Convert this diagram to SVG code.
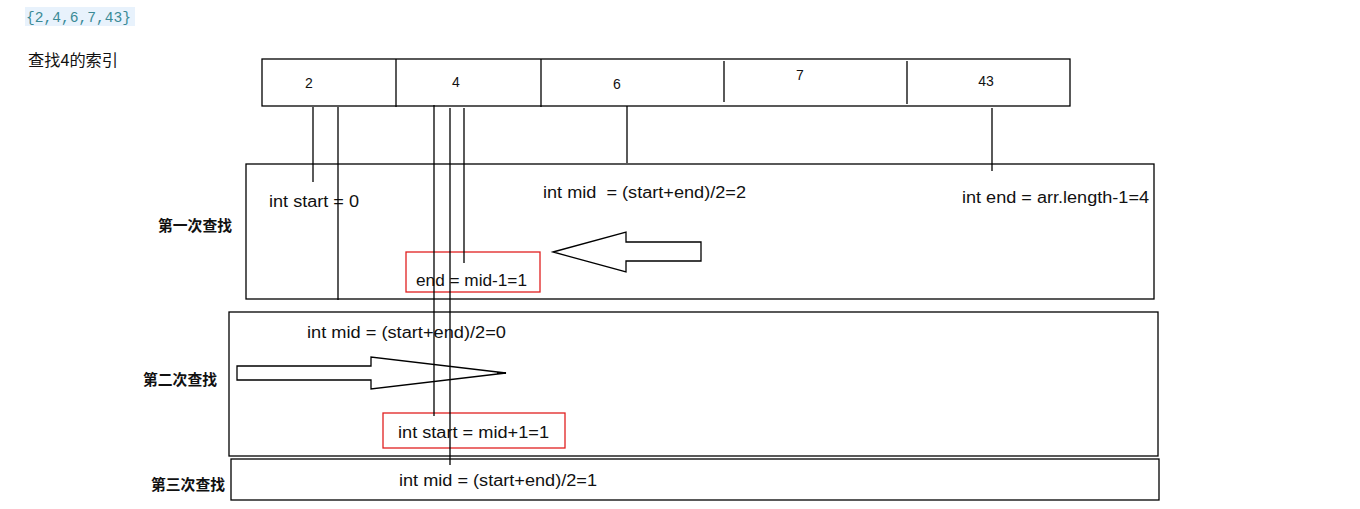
<svg xmlns="http://www.w3.org/2000/svg" width="1360" height="509" viewBox="0 0 1360 509">
<style>
.ln{stroke:#000;stroke-width:1.3;fill:none}
.bx{stroke:#000;stroke-width:1.3;fill:none}
.rb{stroke:#e02020;stroke-width:1.3;fill:none}
.t{font-family:"Liberation Sans","Open Sans",sans-serif;font-size:16px;fill:#111}
.n{font-family:"Liberation Sans","Open Sans",sans-serif;font-size:14px;fill:#111}
.lb{font-family:"Noto Sans CJK SC",sans-serif;font-size:14.8px;font-weight:bold;fill:#111}
</style>
<rect width="1360" height="509" fill="#fff"/>
<g id="header">
<rect x="25" y="7" width="110" height="19" fill="#e8f2fc"/>
<text x="26" y="22" font-family="Liberation Mono,monospace" font-size="14" fill="#3a8a96" textLength="105" lengthAdjust="spacingAndGlyphs">{2,4,6,7,43}</text>
<text x="28" y="66" font-family="Noto Sans CJK SC,sans-serif" font-size="16" fill="#111" textLength="90" lengthAdjust="spacingAndGlyphs">查找4的索引</text>
</g>
<g id="array">
<rect class="bx" x="262" y="59" width="808" height="47"/>
<line class="ln" x1="396" y1="59" x2="396" y2="107"/>
<line class="ln" x1="541" y1="59" x2="541" y2="107"/>
<line class="ln" x1="724" y1="61" x2="724" y2="102"/>
<line class="ln" x1="907" y1="61" x2="907" y2="104"/>
<text class="n" x="309" y="88" text-anchor="middle">2</text>
<text class="n" x="456" y="87" text-anchor="middle">4</text>
<text class="n" x="617" y="89" text-anchor="middle">6</text>
<text class="n" x="800" y="80" text-anchor="middle">7</text>
<text class="n" x="986" y="86" text-anchor="middle">43</text>
</g>
<g id="step1">
<rect class="bx" x="246" y="164" width="908" height="135"/>
<text class="lb" x="158" y="231" textLength="74" lengthAdjust="spacingAndGlyphs">第一次查找</text>
<text class="t" x="269" y="207" textLength="90" lengthAdjust="spacingAndGlyphs">int start = 0</text>
<text class="t" x="543" y="198" xml:space="preserve" textLength="203" lengthAdjust="spacingAndGlyphs">int mid  = (start+end)/2=2</text>
<text class="t" x="962" y="203" textLength="187" lengthAdjust="spacingAndGlyphs">int end = arr.length-1=4</text>
<rect class="rb" x="406" y="252" width="134" height="40"/>
<text class="t" x="416" y="286" textLength="111" lengthAdjust="spacingAndGlyphs">end = mid-1=1</text>
<polygon class="ln" points="553,252 626,232 626,242 701,242 701,261 626,261 626,272"/>
</g>
<g id="step2">
<rect class="bx" x="229" y="312" width="929" height="144"/>
<text class="lb" x="143" y="385" textLength="74" lengthAdjust="spacingAndGlyphs">第二次查找</text>
<text class="t" x="307" y="338" textLength="199" lengthAdjust="spacingAndGlyphs">int mid = (start+end)/2=0</text>
<polygon class="ln" points="237,366 371,366 371,357 506,373 371,389 371,380 237,380"/>
<line x1="497" y1="373" x2="506" y2="373" stroke="#000" stroke-width="2"/>
<rect class="rb" x="383" y="413" width="182" height="35"/>
<text class="t" x="398" y="438" textLength="151" lengthAdjust="spacingAndGlyphs">int start = mid+1=1</text>
</g>
<g id="step3">
<rect class="bx" x="231" y="459" width="928" height="41"/>
<text class="lb" x="151" y="490" textLength="74" lengthAdjust="spacingAndGlyphs">第三次查找</text>
<text class="t" x="399" y="486" textLength="198" lengthAdjust="spacingAndGlyphs">int mid = (start+end)/2=1</text>
</g>
<g id="connectors">
<line class="ln" x1="313" y1="107" x2="313" y2="182"/>
<line class="ln" x1="338" y1="107" x2="338" y2="300"/>
<line class="ln" x1="434" y1="105" x2="434" y2="416"/>
<line class="ln" x1="450" y1="108" x2="450" y2="465"/>
<line class="ln" x1="464" y1="108" x2="464" y2="263"/>
<line class="ln" x1="627" y1="106" x2="627" y2="163"/>
<line class="ln" x1="992" y1="108" x2="992" y2="171"/>
</g>
</svg>
